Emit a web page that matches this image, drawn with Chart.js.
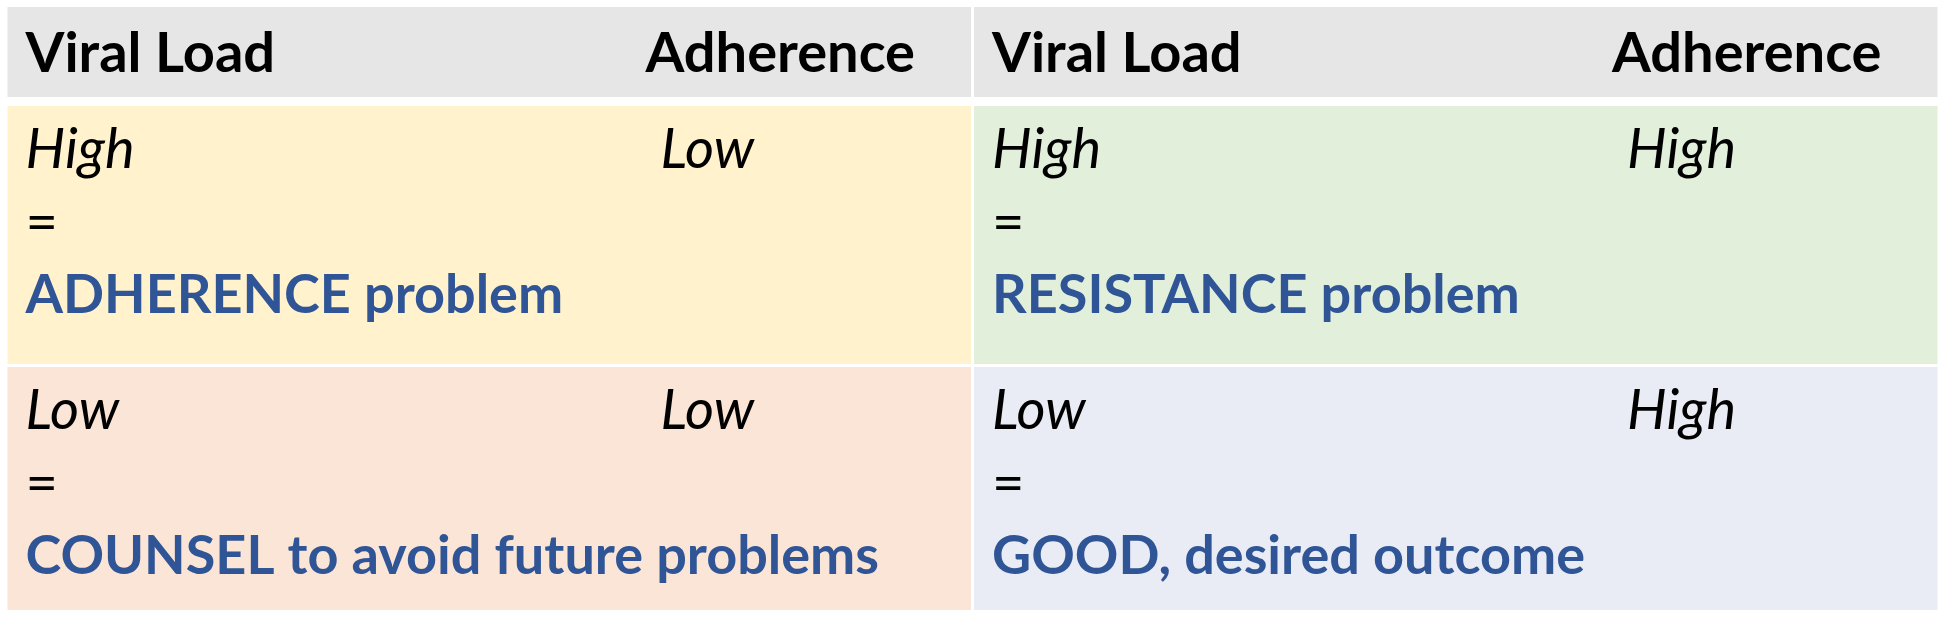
<!DOCTYPE html>
<html>
<head>
<meta charset="utf-8">
<script src="https://cdn.jsdelivr.net/npm/chart.js@4"></script>
<style>
  html, body { margin: 0; padding: 0; background: #ffffff; }
  #wrap { width: 1950px; height: 626px; position: relative; }
</style>
</head>
<body>
<div id="wrap"><canvas id="grid"></canvas></div>
<script>
// columns = adherence level, rows = viral load level
const adherenceLevels = ['Low', 'High'];
const viralLoadLevels = ['High', 'Low'];
const headerLabels = ['Viral Load', 'Adherence'];
const outcomesHighVL = ['ADHERENCE problem', 'RESISTANCE problem'];
const outcomesLowVL = ['COUNSEL to avoid future problems', 'GOOD, desired outcome'];
const outcomes = [outcomesHighVL, outcomesLowVL];

// row bands on the y scale (table units, top = 0)
const bands = { header: [0, 90], high: [99, 357], low: [360, 603] };

const headerColor = '#E7E6E6';
const cellColors = [
    ['#FFF2CC', '#E2EFDA'],   // high VL row
    ['#FBE5D6', '#E9EBF5']    // low VL row
];

const FONT = 'Lato';
const SIZE = 56;
const BLUE_SIZE = 54;

function band(b) { return adherenceLevels.map(() => b); }

// draws the texts of each cell inside the bars
const cellText = {
    id: 'cellText',
    afterDatasetsDraw(chart) {
        const ctx = chart.ctx;
        ctx.save();
        ctx.textBaseline = 'alphabetic';
        ctx.textAlign = 'left';
        chart.data.datasets.forEach((ds, d) => {
            const meta = chart.getDatasetMeta(d);
            meta.data.forEach((el, i) => {
                const left = el.x - el.width / 2;
                const top = Math.min(el.y, el.base);
                if (d === 0) {
                    ctx.fillStyle = '#000000';
                    ctx.font = 'bold ' + SIZE + 'px ' + FONT;
                    ctx.fillText(headerLabels[0], left + 18, top + 65);
                    ctx.fillText(headerLabels[1], left + 638, top + 65);
                } else {
                    const r = d - 1;
                    ctx.fillStyle = '#000000';
                    ctx.font = 'italic ' + SIZE + 'px ' + FONT;
                    ctx.fillText(viralLoadLevels[r], left + 18, top + 62);
                    ctx.fillText(adherenceLevels[i], left + 653, top + 62);
                    ctx.font = SIZE + 'px ' + FONT;
                    ctx.fillText('=', left + 18, top + 135);
                    ctx.fillStyle = '#2F5597';
                    ctx.font = 'bold ' + BLUE_SIZE + 'px ' + FONT;
                    ctx.fillText(outcomes[r][i], left + 18, top + 207);
                }
            });
        });
        ctx.restore();
    }
};

const common = {
    grouped: false,
    barPercentage: 0.9969,
    categoryPercentage: 1,
    borderWidth: 0,
    borderSkipped: false
};

new Chart(document.getElementById('grid'), {
    type: 'bar',
    data: {
        labels: adherenceLevels,
        datasets: [
            Object.assign({ label: 'header', data: band(bands.header), backgroundColor: headerColor }, common),
            Object.assign({ label: 'VL ' + viralLoadLevels[0], data: band(bands.high), backgroundColor: cellColors[0] }, common),
            Object.assign({ label: 'VL ' + viralLoadLevels[1], data: band(bands.low), backgroundColor: cellColors[1] }, common)
        ]
    },
    options: {
        responsive: true,
        maintainAspectRatio: false,
        animation: false,
        layout: { padding: { left: 6, right: 11, top: 7, bottom: 16 } },
        plugins: { legend: { display: false }, tooltip: { enabled: false } },
        scales: {
            x: { display: false },
            y: { display: false, min: 0, max: 603, reverse: true }
        }
    },
    plugins: [cellText]
});
</script>
</body>
</html>
